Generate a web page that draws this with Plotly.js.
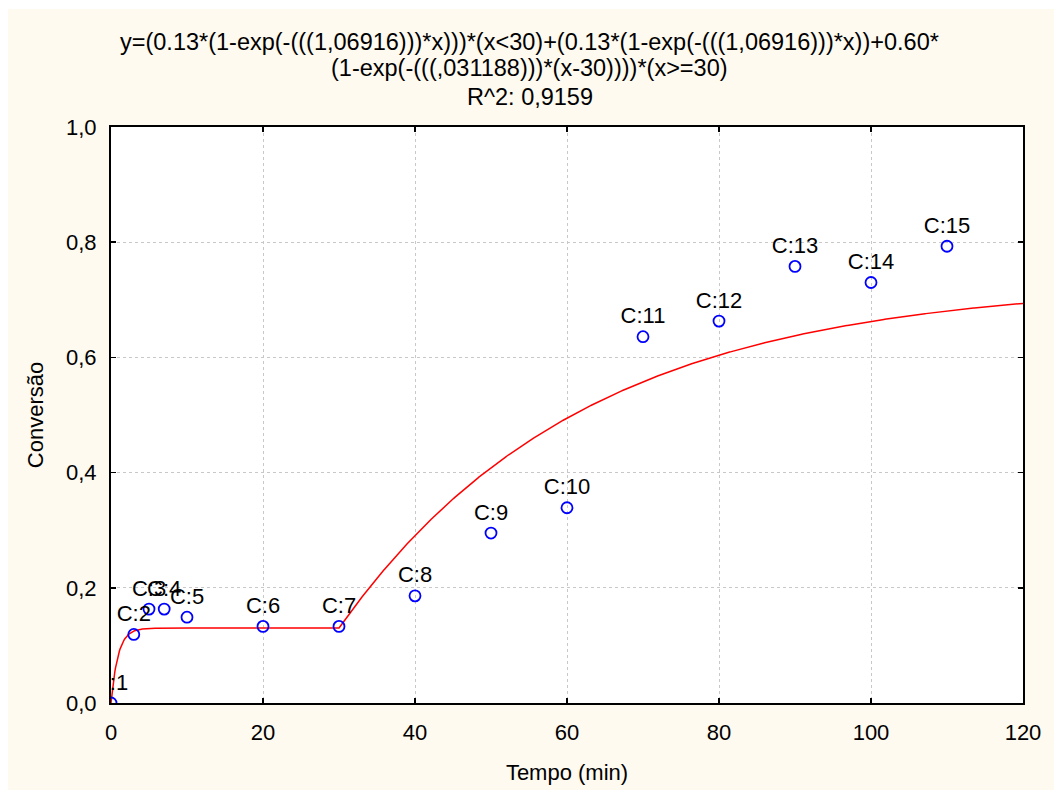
<!DOCTYPE html>
<html>
<head>
<meta charset="utf-8">
<script src="https://cdn.plot.ly/plotly-3.0.1.min.js"></script>
<style>html,body{margin:0;padding:0;background:#fff;}#chart{width:1054px;height:790px;}</style>
</head>
<body>
<div id="chart"></div>
<script>
// Observed points
const tempo = [0, 3, 5, 7, 10, 20, 30, 40, 50, 60, 70, 80, 90, 100, 110];
const conversao = [0.0, 0.119, 0.163, 0.163, 0.149, 0.133, 0.133, 0.186, 0.295, 0.339, 0.636, 0.663, 0.758, 0.730, 0.793];
const pointLabels = ["C:1","C:2","C:3","C:4","C:5","C:6","C:7","C:8","C:9","C:10","C:11","C:12","C:13","C:14","C:15"];

// Fitted model parameters (as printed in the chart title)
const fitA = 0.13, fitK1 = 1.06916, fitB = 0.60, fitK2 = 0.031188, fitBreak = 30;
const titleLines = [
  "y=(0.13*(1-exp(-(((1,06916)))*x)))*(x<30)+(0.13*(1-exp(-(((1,06916)))*x))+0.60*",
  "(1-exp(-(((,031188)))*(x-30))))*(x>=30)",
  "R^2: 0,9159"
];
const xTicks = [0, 20, 40, 60, 80, 100, 120];
const yTicks = [0.0, 0.2, 0.4, 0.6, 0.8, 1.0];

const fitX = [], fitY = [];
for (let i = 0; i <= 1200; i++) {
  const x = i / 10;
  let y = fitA * (1 - Math.exp(-fitK1 * x));
  if (x >= fitBreak) y += fitB * (1 - Math.exp(-fitK2 * (x - fitBreak)));
  fitX.push(x); fitY.push(y);
}

const font = "'Liberation Sans', Arial, sans-serif";

const traces = [
  {x: fitX, y: fitY, mode: "lines", line: {color: "#ff0000", width: 1.5}, hoverinfo: "skip", cliponaxis: true},
  {x: tempo, y: conversao, mode: "markers+text", text: pointLabels, textposition: "top center",
   textfont: {family: font, size: 22, color: "#000"},
   marker: {symbol: "circle-open", size: 11, color: "#0000ff", line: {width: 1.8, color: "#0000ff"}},
   cliponaxis: true}
];

const axisCommon = {
  showline: true, linecolor: "#000", linewidth: 2, mirror: "ticks",
  ticks: "inside", ticklen: 5, tickcolor: "#000", tickwidth: 1.5,
  showgrid: true, gridcolor: "#c8c8c8", griddash: "dot", gridwidth: 1,
  zeroline: false, tickfont: {family: font, size: 22, color: "#000"}
};

const layout = {
  width: 1054, height: 790,
  margin: {l: 111, r: 31, t: 127, b: 87},
  paper_bgcolor: "#fefaf0", plot_bgcolor: "#ffffff",
  separators: ", ",
  showlegend: false,
  font: {family: font, color: "#000"},
  xaxis: Object.assign({}, axisCommon, {
    range: [0, 120], tickvals: xTicks, ticktext: xTicks.map(String), ticklabelstandoff: 9,
    title: {text: "Tempo (min)", font: {family: font, size: 22}, standoff: 20}
  }),
  yaxis: Object.assign({}, axisCommon, {
    range: [0, 1.0], tickvals: yTicks, ticktext: yTicks.map(v => v.toFixed(1).replace(".", ",")), ticklabelstandoff: 8,
    title: {text: "Conversão", font: {family: font, size: 22}, standoff: 16}
  }),
  annotations: titleLines.map((t, i) => ({
    text: t, xref: "paper", yref: "paper", x: 0.4594, y: 1 + [85, 59, 30][i] / 576,
    xanchor: "center", yanchor: "middle", showarrow: false,
    font: {family: font, size: 23.5, color: "#000"}
  })),
  shapes: [
    {type: "rect", xref: "paper", yref: "paper", x0: -111/912, x1: (1054-111)/912, y0: 1 + 118/576, y1: 1 + 128/576, fillcolor: "#fff", line: {width: 0}, layer: "below"},
    {type: "rect", xref: "paper", yref: "paper", x0: -112/912, x1: -103/912, y0: -88/576, y1: 1 + 128/576, fillcolor: "#fff", line: {width: 0}, layer: "below"}
  ]
};

Plotly.newPlot("chart", traces, layout, {displayModeBar: false, staticPlot: true});
</script>
</body>
</html>
